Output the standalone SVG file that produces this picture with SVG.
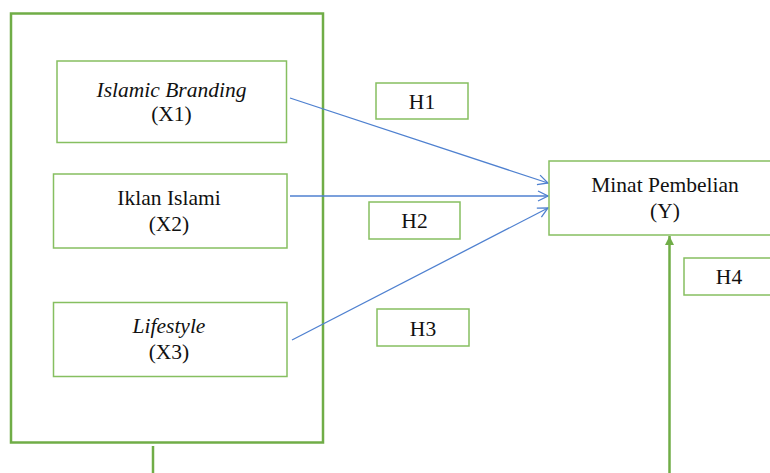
<svg xmlns="http://www.w3.org/2000/svg" width="770" height="473" viewBox="0 0 770 473">
<defs>
<style>
.outer{fill:none;stroke:#70ad47;stroke-width:2.5}
.box{fill:#fff;stroke:#86bf60;stroke-width:1.5}
.t{font-family:'Liberation Serif','DejaVu Serif',serif;font-size:21.5px;fill:#111;text-anchor:middle}
.it{font-style:italic}
.blue{stroke:#4f81d0;stroke-width:1.3;fill:none}
.green{stroke:#70ad47;stroke-width:2.5;fill:none}
</style>
<marker id="open" viewBox="0 0 12 12" refX="11" refY="6" markerWidth="12" markerHeight="12" markerUnits="userSpaceOnUse" orient="auto">
<path d="M1,1 L11,6 L1,11" fill="none" stroke="#4f81d0" stroke-width="1.3"/>
</marker>
<marker id="tri" viewBox="0 0 10 10" refX="10" refY="5" markerWidth="9" markerHeight="9" markerUnits="userSpaceOnUse" orient="auto">
<path d="M0,0 L10,5 L0,10 Z" fill="#70ad47"/>
</marker>
</defs>
<g id="group-box">
<rect class="outer" x="11" y="13.5" width="312" height="429"/>
</g>
<g id="connectors">
<line class="blue" x1="290" y1="98" x2="548" y2="183" marker-end="url(#open)"/>
<line class="blue" x1="290" y1="196" x2="548" y2="196" marker-end="url(#open)"/>
<line class="blue" x1="292" y1="340" x2="548" y2="208" marker-end="url(#open)"/>
<line class="green" x1="153" y1="446" x2="153" y2="473"/>
<line class="green" x1="669.5" y1="473" x2="669.5" y2="236" marker-end="url(#tri)"/>
</g>
<g id="x1">
<rect class="box" x="57" y="61" width="229.5" height="81.5"/>
<text class="t it" x="171.5" y="97">Islamic Branding</text>
<text class="t" x="171.5" y="121">(X1)</text>
</g>
<g id="x2">
<rect class="box" x="53.5" y="174" width="233.5" height="74"/>
<text class="t" x="169" y="205">Iklan Islami</text>
<text class="t" x="169" y="231">(X2)</text>
</g>
<g id="x3">
<rect class="box" x="53.5" y="302.5" width="233.5" height="74"/>
<text class="t it" x="169" y="333">Lifestyle</text>
<text class="t" x="169" y="359">(X3)</text>
</g>
<g id="y">
<rect class="box" x="549" y="161" width="230" height="74"/>
<text class="t" x="665" y="192">Minat Pembelian</text>
<text class="t" x="665" y="218">(Y)</text>
</g>
<g id="h1">
<rect class="box" x="376" y="83" width="92" height="36"/>
<text class="t" x="422" y="109">H1</text>
</g>
<g id="h2">
<rect class="box" x="369" y="202" width="91" height="37"/>
<text class="t" x="414.5" y="228">H2</text>
</g>
<g id="h3">
<rect class="box" x="377" y="309" width="92" height="37"/>
<text class="t" x="423" y="336">H3</text>
</g>
<g id="h4">
<rect class="box" x="684" y="258" width="100" height="37"/>
<text class="t" x="729" y="284">H4</text>
</g>
</svg>
